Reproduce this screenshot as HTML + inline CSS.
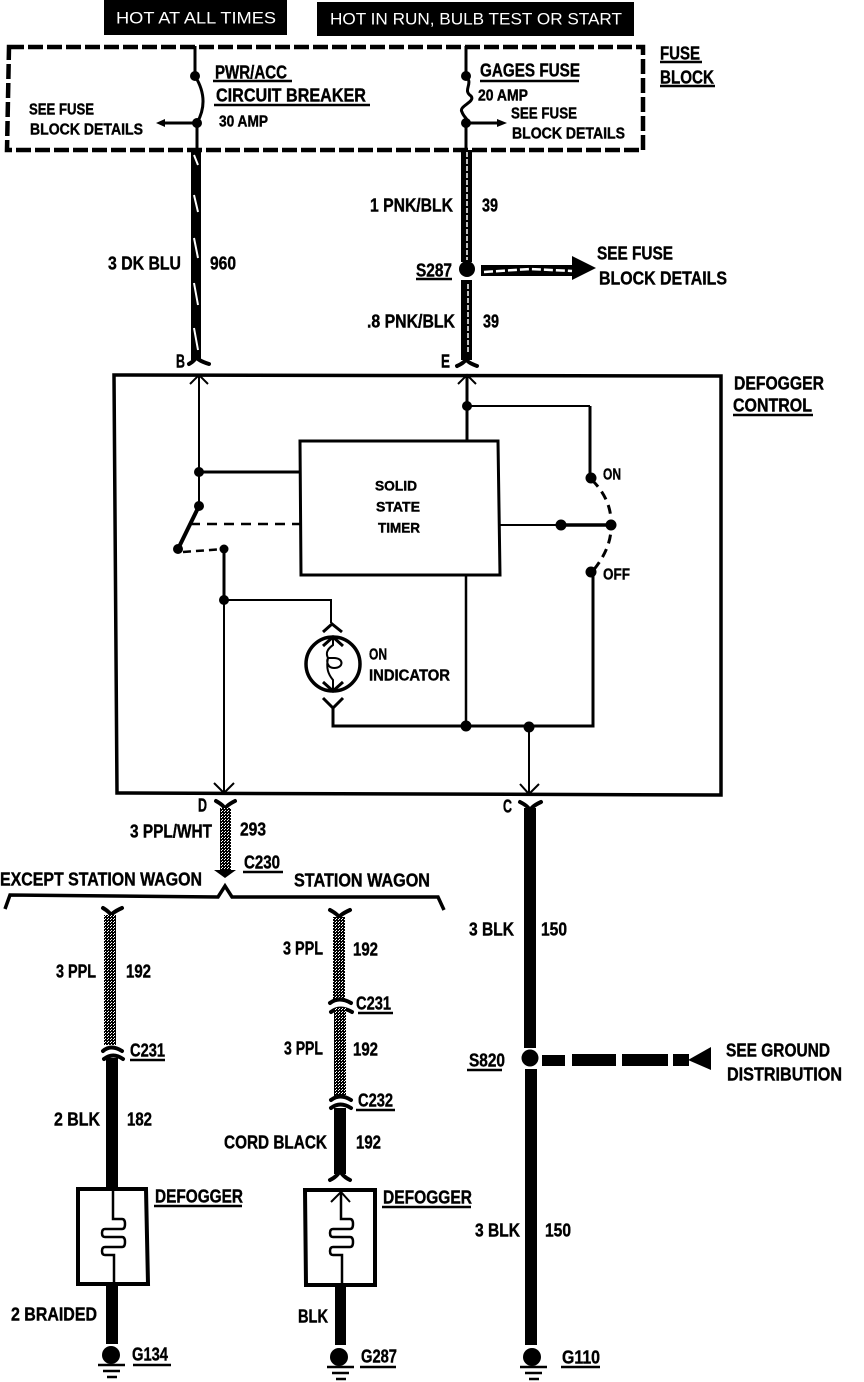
<!DOCTYPE html>
<html><head><meta charset="utf-8">
<style>
html,body{margin:0;padding:0;background:#fff;width:864px;height:1382px;overflow:hidden}
svg{display:block}
text{font-family:"Liberation Sans",sans-serif;font-weight:bold;font-size:18px;fill:#000;stroke:#000;stroke-width:.4;transform:translateY(.5px)}
.w{fill:#fff;stroke:none;font-weight:normal;font-size:17px}
.s{font-size:16px}
.l{stroke:#000;fill:none;stroke-width:3}
.t{stroke:#000;fill:none;stroke-width:2}
.y{stroke:#000;fill:none;stroke-width:4;stroke-linecap:round}
.u{stroke:#000;fill:none;stroke-width:2.5}
</style></head><body>
<svg width="864" height="1382" viewBox="0 0 864 1382" xmlns="http://www.w3.org/2000/svg">
<defs>
<pattern id="sp" width="3" height="3" patternUnits="userSpaceOnUse"><rect width="3" height="3" fill="#000"/><rect x="0" y="0" width="1" height="1" fill="#fff"/><rect x="2" y="1" width="1" height="1" fill="#fff"/></pattern>
</defs>
<rect width="864" height="1382" fill="#fff"/>

<!-- header -->
<rect x="104" y="0" width="183" height="35" fill="#000"/>
<rect x="317" y="2" width="317" height="34" fill="#000"/>
<text class="w" x="116" y="23" textLength="160" lengthAdjust="spacingAndGlyphs">HOT AT ALL TIMES</text>
<text class="w" x="330" y="24" textLength="292" lengthAdjust="spacingAndGlyphs">HOT IN RUN, BULB TEST OR START</text>

<!-- fuse block -->
<path d="M9 47H643V150H7Z" fill="none" stroke="#000" stroke-width="4.5" stroke-dasharray="15 4"/>
<path class="l" d="M195 46V76Q210 100 197 123V150"/>
<circle cx="195" cy="76" r="5"/><circle cx="197" cy="123" r="5"/>
<path class="l" d="M197 123H162"/><path d="M156 123L165 119V127Z"/>
<path class="l" d="M466 46V76C474 84 462 90 471 96C476 102 458 106 462 112C464 118 470 120 466 123V150"/>
<circle cx="466" cy="76" r="5"/><circle cx="466" cy="123" r="5"/>
<path class="l" d="M466 123H500"/><path d="M507 123L497 119V127Z"/>

<!-- top wires -->
<rect x="191" y="150" width="10" height="210"/>
<g stroke="#fff" stroke-width="2"><path d="M194 155L198 165M194 195L198 212M194 238L198 258M194 283L198 305M194 328L198 350"/></g>
<path class="y" d="M189 364Q196 360 196 356Q196 360 209 364"/>
<rect x="461" y="150" width="11" height="112"/>
<rect x="461" y="280" width="11" height="80"/>
<g stroke="#fff" stroke-width="1.5" stroke-dasharray="5 2"><path d="M467 152V260M468 284V352"/></g>
<circle cx="467" cy="269" r="8"/>
<path class="y" d="M457 366Q466 362 466 358Q466 362 477 366"/>
<rect x="481" y="265" width="92" height="11"/>
<path d="M572 256L596 268L572 280Z"/>
<path d="M484 272L530 269L572 271" stroke="#fff" stroke-width="2.5" stroke-dasharray="9 3" fill="none"/>

<!-- control box -->
<path d="M114 375L721 376V795L117 793Z" fill="none" stroke="#000" stroke-width="3.5"/>
<path class="t" d="M190 384L199 375L208 384"/><path class="t" d="M458 384L467 375L476 384"/>
<path class="t" d="M199 376V506"/><path class="l" d="M199 472H300"/>
<circle cx="199" cy="472" r="5"/><circle cx="199" cy="506" r="5"/>
<path d="M199 506L178 549" stroke="#000" stroke-width="4"/>
<circle cx="178" cy="549" r="5"/>
<path d="M183 552L224 549" stroke="#000" stroke-width="2.5" stroke-dasharray="8 5" fill="none"/>
<circle cx="224" cy="549" r="4.5"/>
<path d="M190 524H300" stroke="#000" stroke-width="2.5" stroke-dasharray="10 7" fill="none"/>
<path class="t" d="M224 549V792"/><path class="l" d="M224 549V600"/>
<circle cx="224" cy="600" r="5"/>
<path class="t" d="M224 600H331V623"/>
<path class="t" d="M214 783L224 793L234 783"/>
<path class="l" d="M323 632L332 624L342 632"/>

<!-- indicator -->
<circle cx="333" cy="664" r="27" fill="none" stroke="#000" stroke-width="3.5"/>
<path class="l" d="M323 646L333 637L343 646"/>
<path class="l" d="M323 682L333 691L343 682"/>
<path class="t" d="M333 637V645C326 650 326 654 328 658C326 662 328 668 334 668C344 668 344 658 334 658H328C326 668 328 674 333 680V691"/>
<path class="l" d="M323 698L333 708L343 698"/>
<path class="l" d="M333 706V726H593V571"/>
<circle cx="466" cy="726" r="5.5"/><circle cx="529" cy="727" r="5.5"/>
<path class="t" d="M529 727V793"/><path class="t" d="M520 784L529 794L539 784"/>

<!-- timer -->
<path d="M300 441H498L500 575H301Z" fill="none" stroke="#000" stroke-width="3"/>
<text class="s" x="375" y="490" textLength="42" lengthAdjust="spacingAndGlyphs" style="font-size:14px">SOLID</text>
<text class="s" x="376" y="511" textLength="44" lengthAdjust="spacingAndGlyphs" style="font-size:14px">STATE</text>
<text class="s" x="378" y="532" textLength="42" lengthAdjust="spacingAndGlyphs" style="font-size:14px">TIMER</text>
<path class="l" d="M467 376V441"/><path class="t" d="M467 406H590"/><path class="l" d="M590 406V478"/>
<circle cx="467" cy="406" r="5"/>
<circle cx="591" cy="478" r="5.5"/>
<circle cx="591" cy="572" r="5.5"/>
<path class="t" d="M499 525H561"/><path d="M561 525H610" stroke="#000" stroke-width="3.5"/>
<circle cx="561" cy="525" r="5.5"/><circle cx="611" cy="525" r="5.5"/>
<path d="M592 480Q612 500 611 525Q612 548 592 572" fill="none" stroke="#000" stroke-width="3" stroke-dasharray="9 6"/>
<path d="M466 574V726" stroke="#000" stroke-width="2.5" fill="none"/>

<!-- D wire -->
<path class="y" d="M216 801Q225 806 225 810Q225 806 235 801"/>
<rect x="220" y="808" width="11" height="64" fill="url(#sp)"/>
<path d="M214 870H236L225 878Z"/>
<path d="M5 909L10 895L218 897L225 886L232 897L438 897L444 910" fill="none" stroke="#000" stroke-width="3.5"/>

<!-- left branch -->
<path class="y" d="M103 908Q111 913 111 916Q111 913 122 908"/>
<rect x="104" y="915" width="12" height="130" fill="url(#sp)"/>
<path class="y" d="M103 1051Q111 1044 122 1051"/>
<path class="y" d="M104 1059Q113 1052 123 1059"/>
<rect x="106" y="1058" width="12" height="130"/>
<path d="M78 1189H146L148 1284H78Z" fill="none" stroke="#000" stroke-width="4"/>
<path d="M113 1189V1219H122Q125 1219 125 1224Q125 1229 122 1229H105Q102 1229 102 1233Q102 1237 105 1237H122Q125 1237 125 1242Q125 1247 122 1247H105Q102 1247 102 1251Q102 1255 105 1255H114V1284" fill="none" stroke="#000" stroke-width="2.5"/>
<rect x="106" y="1284" width="12" height="60"/>
<circle cx="111" cy="1355" r="9"/>
<path d="M98 1365H125M103 1371H120M107 1377H117" stroke="#000" stroke-width="2.5"/>

<!-- right branch -->
<path class="y" d="M330 910Q339 915 339 918Q339 915 350 910"/>
<rect x="333" y="917" width="12" height="84" fill="url(#sp)"/>
<path class="y" d="M330 1003Q339 996 351 1003"/>
<path class="y" d="M331 1012Q340 1005 352 1012"/>
<rect x="334" y="1008" width="12" height="88" fill="url(#sp)"/>
<path class="y" d="M331 1100Q340 1093 351 1100"/>
<path class="y" d="M331 1108Q340 1101 351 1108"/>
<rect x="334" y="1108" width="12" height="66"/>
<path class="y" d="M330 1180Q340 1175 340 1168Q340 1175 350 1180"/>
<path d="M305 1190H375V1285H306Z" fill="none" stroke="#000" stroke-width="4"/>
<path class="t" d="M331 1202L341 1192L350 1202"/>
<path d="M341 1192V1219H350Q353 1219 353 1224Q353 1229 350 1229H333Q330 1229 330 1233Q330 1237 333 1237H350Q353 1237 353 1242Q353 1247 350 1247H333Q330 1247 330 1251Q330 1255 333 1255H342V1285" fill="none" stroke="#000" stroke-width="2.5"/>
<rect x="335" y="1285" width="11" height="60"/>
<circle cx="339" cy="1357" r="9"/>
<path d="M327 1367H354M332 1373H349M336 1379H346" stroke="#000" stroke-width="2.5"/>

<!-- C wire -->
<path class="y" d="M520 802Q530 807 530 812Q530 807 541 802"/>
<rect x="524" y="808" width="12" height="240"/>
<circle cx="530" cy="1058" r="8.5"/>
<rect x="525" y="1069" width="12" height="276"/>
<circle cx="532" cy="1357" r="9"/>
<path d="M520 1367H547M525 1373H542M529 1379H539" stroke="#000" stroke-width="2.5"/>
<rect x="542" y="1055" width="23" height="11"/>
<rect x="572" y="1054" width="44" height="12"/>
<rect x="622" y="1054" width="46" height="12"/>
<rect x="673" y="1054" width="16" height="12"/>
<path d="M688 1060L711 1047V1070Z"/>

<!-- labels -->
<text x="215" y="78" textLength="72" lengthAdjust="spacingAndGlyphs">PWR/ACC</text><path class="u" d="M213 81H292"/>
<text x="216" y="101" textLength="150" lengthAdjust="spacingAndGlyphs">CIRCUIT BREAKER</text><path class="u" d="M214 105H370"/>
<text x="219" y="126" textLength="49" lengthAdjust="spacingAndGlyphs" class="s">30 AMP</text>
<text x="29" y="114" textLength="65" lengthAdjust="spacingAndGlyphs" class="s">SEE FUSE</text>
<text x="30" y="134" textLength="113" lengthAdjust="spacingAndGlyphs" class="s">BLOCK DETAILS</text>
<text x="480" y="76" textLength="100" lengthAdjust="spacingAndGlyphs">GAGES FUSE</text><path class="u" d="M480 81H579"/>
<text x="478" y="100" textLength="50" lengthAdjust="spacingAndGlyphs" class="s">20 AMP</text>
<text x="511" y="118" textLength="66" lengthAdjust="spacingAndGlyphs" class="s">SEE FUSE</text>
<text x="512" y="138" textLength="113" lengthAdjust="spacingAndGlyphs" class="s">BLOCK DETAILS</text>
<text x="660" y="59" textLength="40" lengthAdjust="spacingAndGlyphs">FUSE</text><path class="u" d="M660 62H702"/>
<text x="660" y="83" textLength="54" lengthAdjust="spacingAndGlyphs">BLOCK</text><path class="u" d="M660 86H715"/>
<text x="370" y="211" textLength="83" lengthAdjust="spacingAndGlyphs">1 PNK/BLK</text>
<text x="482" y="211" textLength="16" lengthAdjust="spacingAndGlyphs">39</text>
<text x="108" y="269" textLength="73" lengthAdjust="spacingAndGlyphs">3 DK BLU</text>
<text x="210" y="269" textLength="26" lengthAdjust="spacingAndGlyphs">960</text>
<text x="416" y="276" textLength="36" lengthAdjust="spacingAndGlyphs">S287</text><path class="u" d="M416 279H452"/>
<text x="367" y="327" textLength="88" lengthAdjust="spacingAndGlyphs">.8 PNK/BLK</text>
<text x="483" y="327" textLength="16" lengthAdjust="spacingAndGlyphs">39</text>
<text x="597" y="259" textLength="76" lengthAdjust="spacingAndGlyphs">SEE FUSE</text>
<text x="599" y="284" textLength="128" lengthAdjust="spacingAndGlyphs">BLOCK DETAILS</text>
<text x="176" y="367" textLength="9" lengthAdjust="spacingAndGlyphs">B</text>
<text x="441" y="367" textLength="9" lengthAdjust="spacingAndGlyphs">E</text>
<text x="734" y="389" textLength="90" lengthAdjust="spacingAndGlyphs">DEFOGGER</text>
<text x="733" y="411" textLength="79" lengthAdjust="spacingAndGlyphs">CONTROL</text><path class="u" d="M733 415H813"/>
<text class="s" x="603" y="479" textLength="18" lengthAdjust="spacingAndGlyphs">ON</text>
<text class="s" x="603" y="579" textLength="27" lengthAdjust="spacingAndGlyphs">OFF</text>
<text class="s" x="369" y="659" textLength="18" lengthAdjust="spacingAndGlyphs">ON</text>
<text class="s" x="369" y="680" textLength="81" lengthAdjust="spacingAndGlyphs">INDICATOR</text>
<text x="198" y="811" textLength="9" lengthAdjust="spacingAndGlyphs">D</text>
<text x="503" y="812" textLength="9" lengthAdjust="spacingAndGlyphs">C</text>
<text x="130" y="837" textLength="82" lengthAdjust="spacingAndGlyphs">3 PPL/WHT</text>
<text x="240" y="835" textLength="26" lengthAdjust="spacingAndGlyphs">293</text>
<text x="244" y="868" textLength="36" lengthAdjust="spacingAndGlyphs">C230</text><path class="u" d="M243 872H283"/>
<text x="0" y="885" textLength="202" lengthAdjust="spacingAndGlyphs">EXCEPT STATION WAGON</text>
<text x="294" y="886" textLength="136" lengthAdjust="spacingAndGlyphs">STATION WAGON</text>
<text x="56" y="977" textLength="40" lengthAdjust="spacingAndGlyphs">3 PPL</text>
<text x="126" y="977" textLength="25" lengthAdjust="spacingAndGlyphs">192</text>
<text x="283" y="954" textLength="40" lengthAdjust="spacingAndGlyphs">3 PPL</text>
<text x="353" y="955" textLength="25" lengthAdjust="spacingAndGlyphs">192</text>
<text x="130" y="1056" textLength="35" lengthAdjust="spacingAndGlyphs">C231</text><path class="u" d="M130 1060H165"/>
<text x="356" y="1009" textLength="35" lengthAdjust="spacingAndGlyphs">C231</text><path class="u" d="M358 1013H393"/>
<text x="284" y="1054" textLength="39" lengthAdjust="spacingAndGlyphs">3 PPL</text>
<text x="353" y="1055" textLength="25" lengthAdjust="spacingAndGlyphs">192</text>
<text x="358" y="1106" textLength="35" lengthAdjust="spacingAndGlyphs">C232</text><path class="u" d="M356 1110H395"/>
<text x="54" y="1125" textLength="46" lengthAdjust="spacingAndGlyphs">2 BLK</text>
<text x="127" y="1125" textLength="25" lengthAdjust="spacingAndGlyphs">182</text>
<text x="224" y="1148" textLength="103" lengthAdjust="spacingAndGlyphs">CORD BLACK</text>
<text x="356" y="1148" textLength="25" lengthAdjust="spacingAndGlyphs">192</text>
<text x="155" y="1202" textLength="88" lengthAdjust="spacingAndGlyphs">DEFOGGER</text><path class="u" d="M154 1206H242"/>
<text x="383" y="1203" textLength="89" lengthAdjust="spacingAndGlyphs">DEFOGGER</text><path class="u" d="M382 1207H471"/>
<text x="11" y="1320" textLength="86" lengthAdjust="spacingAndGlyphs">2 BRAIDED</text>
<text x="298" y="1322" textLength="30" lengthAdjust="spacingAndGlyphs">BLK</text>
<text x="132" y="1360" textLength="36" lengthAdjust="spacingAndGlyphs">G134</text><path class="u" d="M133 1365H171"/>
<text x="361" y="1362" textLength="36" lengthAdjust="spacingAndGlyphs">G287</text><path class="u" d="M360 1367H396"/>
<text x="562" y="1363" textLength="38" lengthAdjust="spacingAndGlyphs">G110</text><path class="u" d="M561 1367H600"/>
<text x="469" y="1066" textLength="36" lengthAdjust="spacingAndGlyphs">S820</text><path class="u" d="M467 1070H502"/>
<text x="726" y="1056" textLength="104" lengthAdjust="spacingAndGlyphs">SEE GROUND</text>
<text x="727" y="1080" textLength="115" lengthAdjust="spacingAndGlyphs">DISTRIBUTION</text>
<text x="469" y="935" textLength="45" lengthAdjust="spacingAndGlyphs">3 BLK</text>
<text x="541" y="935" textLength="26" lengthAdjust="spacingAndGlyphs">150</text>
<text x="475" y="1236" textLength="45" lengthAdjust="spacingAndGlyphs">3 BLK</text>
<text x="545" y="1236" textLength="26" lengthAdjust="spacingAndGlyphs">150</text>
</svg>
</body></html>
